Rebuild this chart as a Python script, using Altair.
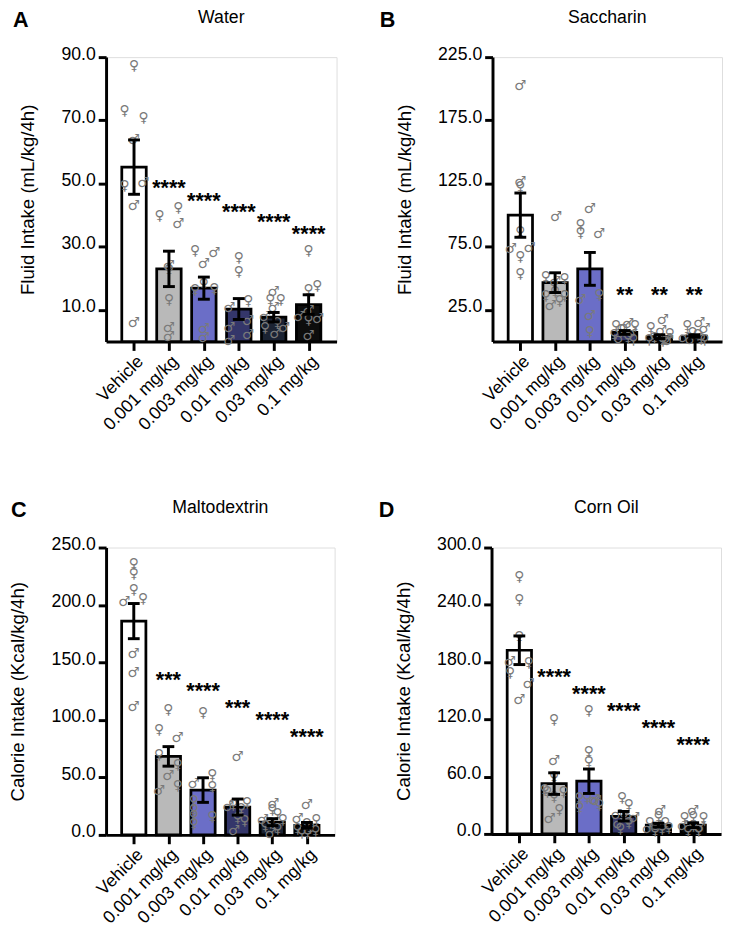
import json
import altair as alt
import pandas as pd

groups = ["Vehicle", "0.001 mg/kg", "0.003 mg/kg", "0.01 mg/kg", "0.03 mg/kg", "0.1 mg/kg"]
bar_colors = ["#ffffff", "#b9b9b9", "#6b6ec7", "#34366a", "#1b2333", "#0d0d0d"]

# ---------------- Water ----------------
water_mean = [55.2, 23.0, 16.9, 10.3, 7.7, 11.7]
water_sem = [8.6, 5.6, 3.5, 3.3, 1.5, 3.1]
water_vals = [
    [87.3, 73.0, 70.6, 63.7, 49.2, 50.3, 43.0, 5.8],
    [39.8, 42.3, 37.3, 23.9, 22.5, 13.1, 4.3, 1.4],
    [28.6, 28.1, 24.4, 16.2, 16.7, 18.2, 3.8, 1.2],
    [26.5, 22.1, 12.8, 10.5, 4.3, 0.3, 6.4, 2.2],
    [15.6, 13.1, 13.1, 10.5, 7.6, 5.8, 4.3, 4.3, 2.5],
    [28.6, 17.4, 16.2, 9.5, 7.9, 7.2, 6.9, 1.7],
]
water_sex = ["FFFMFMMM", "FFMMFFMM", "FMMFFFMM", "FFFMMMMM", "MFFMMFFMM", "FFFMMMFM"]
water_off = [
    [0, -0.27, 0.27, 0, -0.27, 0.27, 0, 0],
    [-0.27, 0.27, 0.27, 0, 0, 0, 0, 0],
    [-0.25, 0.3, 0, -0.25, 0.3, 0, 0, 0],
    [0, 0, 0.27, -0.27, -0.27, -0.27, 0.27, 0.27],
    [0, -0.1, 0.2, 0, -0.25, 0.1, -0.25, 0.3, 0.05],
    [0, 0.25, 0, 0, -0.27, 0.27, 0, 0],
]
water_star_text = ["****", "****", "****", "****", "****"]
water_star_grp = [1, 2, 3, 4, 5]
water_star_y = [48.5, 44.5, 40.8, 37.7, 34.0]

# ---------------- Saccharin ----------------
sacc_mean = [100.0, 46.6, 57.5, 7.2, 3.9, 4.4]
sacc_sem = [17.5, 7.8, 13.0, 1.5, 1.5, 1.0]
sacc_vals = [
    [202.3, 126.0, 122.0, 87.0, 72.9, 73.7, 66.5, 53.6],
    [98.7, 51.0, 49.3, 47.2, 39.4, 35.6, 35.6, 31.7, 27.8],
    [104.5, 92.3, 85.8, 85.3, 36.9, 33.0, 20.1, 7.2],
    [14.0, 12.5, 12.0, 11.5, 9.0, 7.0, 5.0, 3.0, 2.0, 1.0],
    [17.0, 11.0, 8.0, 6.0, 3.0, 2.0, 1.0, 0.5, 0.5],
    [15.0, 12.0, 10.0, 7.0, 5.0, 3.0, 2.0, 1.0, 1.0],
]
sacc_sex = ["MMFFMMFF", "MFFMFFFFM", "MFFMFMMF", "MFFMFMFFMF", "MFMFFMFFM", "MFMFFMFMF"]
sacc_off = [
    [0, 0, 0, 0, -0.27, 0.27, 0, 0],
    [0.03, -0.27, 0.27, 0, 0, -0.27, 0.27, 0.13, -0.13],
    [0, -0.27, -0.27, 0.27, 0.27, -0.27, 0, 0],
    [0.1, -0.25, 0.3, 0, -0.1, 0.2, -0.3, 0.1, -0.15, 0.25],
    [0.1, -0.25, 0.05, 0.3, -0.15, 0.2, -0.3, 0.1, 0.25],
    [0.15, -0.2, 0.3, -0.05, 0.1, -0.3, 0.2, -0.1, 0.3],
]
sacc_star_text = ["**", "**", "**"]
sacc_star_grp = [3, 4, 5]
sacc_star_y = [36.9, 36.9, 36.9]

# ---------------- Maltodextrin ----------------
malto_mean = [186.0, 68.3, 39.0, 24.2, 11.1, 8.3]
malto_sem = [15.3, 8.5, 10.7, 7.0, 3.0, 2.5]
malto_vals = [
    [235.2, 226.7, 213.3, 202.5, 204.8, 157.6, 140.5, 110.9],
    [108.6, 91.6, 84.5, 69.4, 60.8, 51.2, 38.1, 42.7],
    [105.8, 52.3, 43.8, 41.8, 29.0, 21.9, 16.2, 15.4, 9.1],
    [67.4, 27.6, 26.2, 23.9, 22.8, 14.8, 11.9, 3.4],
    [26.7, 21.9, 17.7, 13.1, 12.5, 10.5, 7.7, 4.9, 0.5],
    [26.2, 13.4, 12.5, 9.1, 6.2, 4.9, 3.4, 2.0, 2.0],
]
malto_sex = ["FFFMFMMM", "FFMFFMMF", "FFMFFFFFF", "MFFMFFFM", "MFFFMFFFM", "MMFFFFFFF"]
malto_off = [
    [0, 0, 0, -0.27, 0.27, 0, 0, 0],
    [0, -0.27, 0.27, -0.27, 0.27, 0, -0.27, 0.27],
    [0, 0.27, -0.27, 0.27, -0.27, -0.27, -0.27, 0.27, -0.27],
    [0, 0.27, -0.13, -0.27, 0.1, 0, 0.2, -0.1],
    [0.03, 0, 0.15, 0.3, -0.27, -0.05, -0.2, 0.15, -0.05],
    [0, -0.27, 0.27, 0, 0.1, -0.27, 0.25, -0.15, 0.02],
]
malto_star_text = ["***", "****", "***", "****", "****"]
malto_star_grp = [1, 2, 3, 4, 5]
malto_star_y = [134.8, 125.2, 110.7, 99.6, 85.3]

# ---------------- Corn Oil ----------------
corn_mean = [192.4, 52.7, 55.2, 18.5, 9.2, 9.2]
corn_sem = [15.0, 11.3, 12.8, 5.0, 2.0, 2.5]
corn_vals = [
    [269.5, 244.5, 205.8, 179.5, 178.5, 168.2, 157.2, 140.0],
    [118.9, 76.7, 59.6, 45.9, 44.2, 43.5, 39.0, 25.4, 15.1],
    [129.1, 85.3, 75.0, 37.3, 37.3, 35.0, 33.9, 30.5, 27.0],
    [37.3, 29.8, 20.2, 18.5, 16.7, 15.1, 11.6, 10.0, 4.8],
    [23.6, 17.5, 11.6, 11.6, 8.2, 6.5, 4.8, 4.8, 3.0],
    [23.6, 17.5, 16.1, 16.1, 8.2, 8.2, 6.5, 3.0, 3.0],
]
corn_sex = ["FFFMFFMM", "FMFFFFFFM", "FFFFFMMFF", "FFMFMFFMF", "MFFFMFMFF", "MFFFMFMFF"]
corn_off = [
    [0, 0, 0, -0.27, 0.27, -0.27, 0.27, 0],
    [0, 0, 0, -0.27, -0.2, 0.27, 0, 0.15, -0.13],
    [0, 0, 0, -0.27, -0.05, 0.15, 0.2, 0.3, -0.27],
    [-0.05, 0.15, -0.2, 0, 0.3, 0.1, 0.15, -0.15, -0.1],
    [0.05, 0, -0.25, 0.2, -0.05, 0.3, -0.3, 0.1, -0.1],
    [0, 0, -0.25, 0.3, -0.3, 0, 0.2, -0.15, 0.15],
]
corn_star_text = ["****", "****", "****", "****", "****"]
corn_star_grp = [1, 2, 3, 4, 5]
corn_star_y = [164.0, 146.2, 128.1, 110.3, 92.8]

FONT = "Liberation Sans"
HALF = 0.35
CAP = 0.17


def panel(letter, title, ytitle, means, sems, vals, sexes, offs, star_text, star_grp, star_y,
          ymax, ticks, width, height, letter_x):
    bars = pd.DataFrame({
        "grp": groups,
        "idx": list(range(len(groups))),
        "mean": means,
        "sem": sems,
    })
    bars["x1"] = bars["idx"] - HALF
    bars["x2"] = bars["idx"] + HALF
    bars["lo"] = bars["mean"] - bars["sem"]
    bars["hi"] = bars["mean"] + bars["sem"]
    bars["c1"] = bars["idx"] - CAP
    bars["c2"] = bars["idx"] + CAP

    rows = []
    for gi, (vs, ss, os_) in enumerate(zip(vals, sexes, offs)):
        for v, s, o in zip(vs, ss, os_):
            rows.append({"px": gi + o, "val": v, "sym": "\u2640" if s == "F" else "\u2642"})
    pts = pd.DataFrame(rows)

    stars = pd.DataFrame({"sx": star_grp, "sy": star_y, "st": star_text})

    xscale = alt.Scale(domain=[-0.8, 5.8], nice=False, zero=False)
    yscale = alt.Scale(domain=[0, ymax], nice=False, zero=False)
    xaxis = alt.Axis(values=list(range(len(groups))), labelExpr=f"{json.dumps(groups)}[datum.value]",
                     title=None, labelAngle=-45, grid=False, domainWidth=3, domainColor="black",
                     tickWidth=3, tickColor="black", tickSize=9, labelFontSize=18, labelFont=FONT,
                     labelColor="black", labelPadding=2, labelOverlap=False, labelBound=False,
                     labelFlush=False)
    yaxis = alt.Axis(values=ticks, format=".1f", title=ytitle, grid=False, domainWidth=3,
                     domainColor="black", tickWidth=3, tickColor="black", tickSize=8,
                     labelFontSize=18, labelFont=FONT, labelColor="black", labelPadding=3,
                     labelOverlap=False, labelFlush=False, labelOffset=-3,
                     titleFontSize=19, titleFont=FONT, titleFontWeight="normal", titleColor="black",
                     titlePadding=24)

    bar = alt.Chart(bars).mark_bar(stroke="black", strokeWidth=2.8).encode(
        x=alt.X("x1:Q", scale=xscale, axis=xaxis),
        x2="x2:Q",
        y=alt.Y("mean:Q", scale=yscale, axis=yaxis),
        y2=alt.datum(0),
        color=alt.Color("grp:N", scale=alt.Scale(domain=groups, range=bar_colors), legend=None),
    )
    points = alt.Chart(pts).mark_text(font="DejaVu Sans", fontSize=14, color="#7a7a7a",
                                      baseline="middle").encode(
        x=alt.X("px:Q", scale=xscale, axis=xaxis),
        y=alt.Y("val:Q", scale=yscale, axis=yaxis),
        text="sym:N",
    )
    evert = alt.Chart(bars).mark_rule(color="black", strokeWidth=3).encode(
        x=alt.X("idx:Q", scale=xscale, axis=xaxis),
        y=alt.Y("lo:Q", scale=yscale, axis=yaxis),
        y2="hi:Q",
    )
    etop = alt.Chart(bars).mark_rule(color="black", strokeWidth=3).encode(
        x=alt.X("c1:Q", scale=xscale, axis=xaxis), x2="c2:Q",
        y=alt.Y("hi:Q", scale=yscale, axis=yaxis),
    )
    ebot = alt.Chart(bars).mark_rule(color="black", strokeWidth=3).encode(
        x=alt.X("c1:Q", scale=xscale, axis=xaxis), x2="c2:Q",
        y=alt.Y("lo:Q", scale=yscale, axis=yaxis),
    )
    star = alt.Chart(stars).mark_text(font=FONT, fontSize=22, fontWeight="bold", color="black",
                                      baseline="middle", dy=0).encode(
        x=alt.X("sx:Q", scale=xscale, axis=xaxis),
        y=alt.Y("sy:Q", scale=yscale, axis=yaxis),
        text="st:N",
    )
    ttl = alt.Chart(pd.DataFrame({"t": [title]})).mark_text(
        font=FONT, fontSize=18, color="black", baseline="middle", align="center").encode(
        x=alt.value(width / 2), y=alt.value(-40), text="t:N")
    let = alt.Chart(pd.DataFrame({"t": [letter]})).mark_text(
        font=FONT, fontSize=22, fontWeight="bold", color="black", baseline="middle", align="left").encode(
        x=alt.value(letter_x), y=alt.value(-38), text="t:N")

    return alt.layer(bar, points, evert, etop, ebot, star, ttl, let).properties(width=width, height=height)


pA = panel("A", "Water", "Fluid Intake (mL/kg/4h)", water_mean, water_sem, water_vals, water_sex,
           water_off, water_star_text, water_star_grp, water_star_y, 90, [10, 30, 50, 70, 90],
           235, 290, -95)
pB = panel("B", "Saccharin", "Fluid Intake (mL/kg/4h)", sacc_mean, sacc_sem, sacc_vals, sacc_sex,
           sacc_off, sacc_star_text, sacc_star_grp, sacc_star_y, 225, [25, 75, 125, 175, 225],
           234, 290, -115)
pC = panel("C", "Maltodextrin", "Calorie Intake (Kcal/kg/4h)", malto_mean, malto_sem, malto_vals,
           malto_sex, malto_off, malto_star_text, malto_star_grp, malto_star_y, 250,
           [0, 50, 100, 150, 200, 250], 233, 293, -97)
pD = panel("D", "Corn Oil", "Calorie Intake (Kcal/kg/4h)", corn_mean, corn_sem, corn_vals, corn_sex,
           corn_off, corn_star_text, corn_star_grp, corn_star_y, 300,
           [0, 60, 120, 180, 240, 300], 234, 292, -115)

chart = alt.vconcat(
    alt.hconcat(pA, pB, spacing=42),
    alt.hconcat(pC, pD, spacing=43),
    spacing=65,
).properties(
    padding={"left": 0, "top": -9, "right": 0, "bottom": 0}
).configure_view(stroke=None).configure(font=FONT)

chart.save("out.html", embed_options={"renderer": "svg", "actions": False})
